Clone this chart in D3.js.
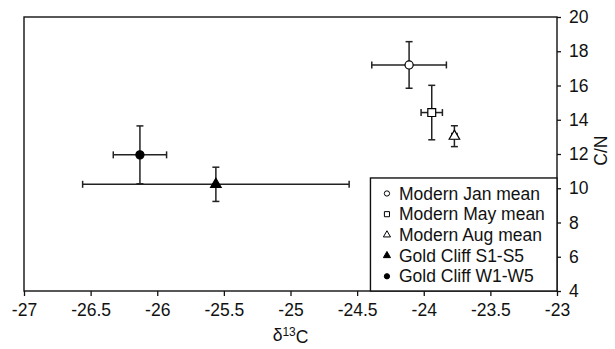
<!DOCTYPE html>
<html>
<head>
<meta charset="utf-8">
<script src="https://cdn.jsdelivr.net/npm/d3@7"></script>
<style>
    body { margin: 0; background: #fff; }
    text { font-family: "Liberation Sans", Arial, sans-serif; font-size: 17.5px; fill: #111; }
</style>
</head>
<body>
<div id="chart"></div>
<script>
// values
var seriesNames = ["Modern Jan mean", "Modern May mean", "Modern Aug mean", "Gold Cliff S1-S5", "Gold Cliff W1-W5"];
var d13C = [-24.11, -23.94, -23.77, -25.56, -26.13];
var d13CErr = [0.28, 0.08, 0.02, 1.0, 0.2];
var cnRatio = [17.2, 14.42, 13.04, 10.23, 11.95];
var cnErr = [1.36, 1.59, 0.61, 1.0, 1.69];
var shapes = ["circle", "square", "triangle", "triangle", "circle"];
var filled = [false, false, false, true, true];
var xTicks = [-27, -26.5, -26, -25.5, -25, -24.5, -24, -23.5, -23];
var yTicks = [4, 6, 8, 10, 12, 14, 16, 18, 20];

var width = 615, height = 349;
var margin = { top: 17, right: 58, bottom: 58, left: 24 };
var plotW = width - margin.left - margin.right,
    plotH = height - margin.top - margin.bottom;

var x = d3.scaleLinear().domain([-27, -23]).range([0, plotW]);
var y = d3.scaleLinear().domain([4, 20]).range([plotH, 0]);

var symbolTypes = { circle: d3.symbolCircle, square: d3.symbolSquare, triangle: d3.symbolTriangle };
var bigSize = { circle: 52, square: 62, triangle: 48 };
var smallSize = { circle: 22, square: 26, triangle: 22 };

var points = seriesNames.map(function (name, i) {
    return { name: name, x: d13C[i], xe: d13CErr[i], y: cnRatio[i], ye: cnErr[i], shape: shapes[i], filled: filled[i] };
});

var svg = d3.select("#chart").append("svg")
    .attr("width", width)
    .attr("height", height)
    .append("g")
    .attr("transform", "translate(" + margin.left + "," + margin.top + ")");

// x axis
svg.append("g")
    .attr("transform", "translate(0," + plotH + ")")
    .call(d3.axisBottom(x).tickValues(xTicks).tickSize(5).tickSizeOuter(0).tickPadding(8)
        .tickFormat(function (d) { return String(d); }));

// y axis on the right
svg.append("g")
    .attr("transform", "translate(" + plotW + ",0)")
    .call(d3.axisRight(y).tickValues(yTicks).tickSize(4).tickSizeOuter(0).tickPadding(8)
        .tickFormat(function (d) { return String(d); }));

svg.selectAll(".tick line").attr("stroke", "#111").attr("stroke-width", 1.3);
svg.selectAll(".domain").remove();
svg.selectAll(".tick text").attr("fill", "#111").style("font-size", "17.5px");

// frame
svg.append("rect")
    .attr("width", plotW)
    .attr("height", plotH)
    .attr("fill", "none")
    .attr("stroke", "#111")
    .attr("stroke-width", 1.4);

// error bars
var cap = 3.5;
var bars = svg.append("g")
    .attr("stroke", "#222")
    .attr("stroke-width", 1.5)
    .attr("fill", "none");

points.forEach(function (p) {
    var cx = x(p.x), cy = y(p.y);
    var x0 = x(p.x - p.xe), x1 = x(p.x + p.xe);
    var y0 = y(p.y + p.ye), y1 = y(p.y - p.ye);
    bars.append("line").attr("x1", x0).attr("x2", x1).attr("y1", cy).attr("y2", cy);
    bars.append("line").attr("x1", x0).attr("x2", x0).attr("y1", cy - cap).attr("y2", cy + cap);
    bars.append("line").attr("x1", x1).attr("x2", x1).attr("y1", cy - cap).attr("y2", cy + cap);
    bars.append("line").attr("x1", cx).attr("x2", cx).attr("y1", y0).attr("y2", y1);
    bars.append("line").attr("x1", cx - cap).attr("x2", cx + cap).attr("y1", y0).attr("y2", y0);
    bars.append("line").attr("x1", cx - cap).attr("x2", cx + cap).attr("y1", y1).attr("y2", y1);
});

// markers
svg.selectAll(".marker")
    .data(points)
    .enter().append("path")
    .attr("class", "marker")
    .attr("transform", function (d) { return "translate(" + x(d.x) + "," + y(d.y) + ")"; })
    .attr("d", function (d) { return d3.symbol(symbolTypes[d.shape], bigSize[d.shape])(); })
    .attr("fill", function (d) { return d.filled ? "#000" : "#fff"; })
    .attr("stroke", "#000")
    .attr("stroke-width", 1.2);

// legend
var legendTop = y(10.6);
var legend = svg.append("g");
legend.append("rect")
    .attr("x", x(-24.4))
    .attr("y", legendTop)
    .attr("width", plotW - x(-24.4))
    .attr("height", plotH - legendTop)
    .attr("fill", "#fff")
    .attr("stroke", "#111")
    .attr("stroke-width", 1.4);

var rows = legend.selectAll(".row")
    .data(points)
    .enter().append("g")
    .attr("class", "row")
    .attr("transform", function (d, i) {
        return "translate(" + (x(-24.4) + 16.5) + "," + (legendTop + 15.5 + i * 20.7) + ")";
    });

rows.append("path")
    .attr("d", function (d) { return d3.symbol(symbolTypes[d.shape], smallSize[d.shape])(); })
    .attr("fill", function (d) { return d.filled ? "#000" : "#fff"; })
    .attr("stroke", "#000")
    .attr("stroke-width", 1);

rows.append("text")
    .attr("x", 12)
    .attr("dy", "0.35em")
    .text(function (d) { return d.name; });

// axis titles
var xTitle = svg.append("text")
    .attr("x", plotW / 2)
    .attr("y", plotH + 50)
    .attr("text-anchor", "middle");
xTitle.append("tspan").text("δ");
xTitle.append("tspan").attr("dy", "-0.45em").style("font-size", "12px").text("13");
xTitle.append("tspan").attr("dy", "0.45em").text("C");

svg.append("text")
    .attr("transform", "translate(" + (plotW + 50) + "," + y(12.2) + ") rotate(-90)")
    .attr("text-anchor", "middle")
    .text("C/N");
</script>
</body>
</html>
